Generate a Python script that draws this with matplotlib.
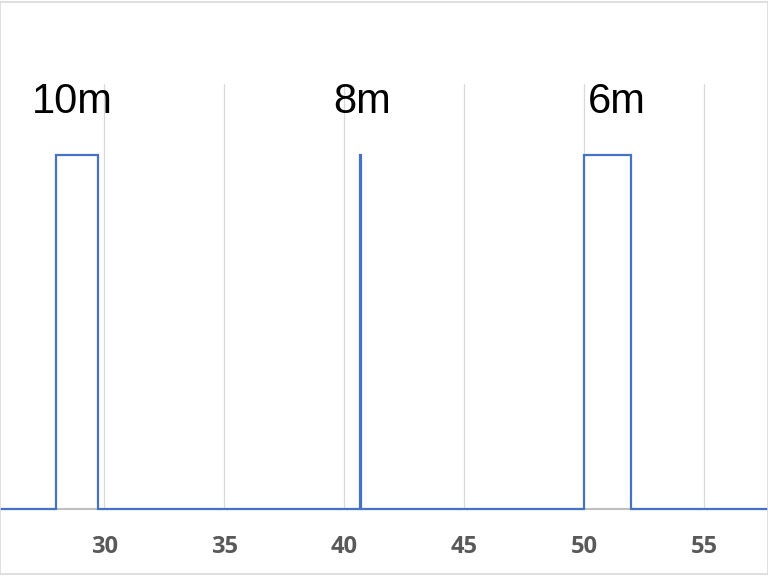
import numpy as np
import matplotlib
matplotlib.use("Agg")
import matplotlib.pyplot as plt
from matplotlib.patches import Rectangle

# pulses (start, end on the x axis, height)
pulse_start = [28.0, 40.63, 50.0]
pulse_end = [29.72, 40.68, 51.94]
pulse_height = [1.0, 1.0, 1.0]
pulse_labels = ["10m", "8m", "6m"]
label_x = [28.65, 40.73, 51.36]
label_y = 1.15

x_min, x_max = 25.65, 57.65
x_ticks = [30, 35, 40, 45, 50, 55]

# build the step line from the pulses
xs = [x_min]
ys = [0.0]
for s, e, h in zip(pulse_start, pulse_end, pulse_height):
    xs += [s, s, e, e]
    ys += [0.0, h, h, 0.0]
xs.append(x_max)
ys.append(0.0)

fig = plt.figure(figsize=(7.68, 5.76), dpi=100)
ax = fig.add_axes([0, 67 / 576, 1, 425 / 576])

ax.plot(xs, ys, color="#4472C4", lw=1.6, solid_joinstyle="miter", clip_on=False, zorder=3)

for lx, txt in zip(label_x, pulse_labels):
    ax.text(lx, label_y, txt, ha="center", va="center", fontsize=30,
            family="Liberation Sans", color="black")

ax.set_xlim(x_min, x_max)
ax.set_ylim(0, 1.2)
ax.set_xticks(x_ticks)
ax.set_yticks([])
ax.grid(axis="x", color="#D9D9D9", lw=0.9)
ax.set_axisbelow(True)
for side in ["top", "left", "right"]:
    ax.spines[side].set_visible(False)
ax.spines["bottom"].set_color("#BFBFBF")
ax.spines["bottom"].set_linewidth(1.5)
ax.tick_params(axis="x", length=0, pad=19, labelsize=17, labelcolor="#595959")
for lbl in ax.get_xticklabels():
    lbl.set_fontweight("bold")
    lbl.set_family("Open Sans")

# thin frame around the chart area
fig.patches.append(Rectangle((0, 0.003), 1, 0.994, transform=fig.transFigure,
                             fill=False, edgecolor="#D9D9D9", lw=1.2))

fig.savefig("out.png", dpi=100)
